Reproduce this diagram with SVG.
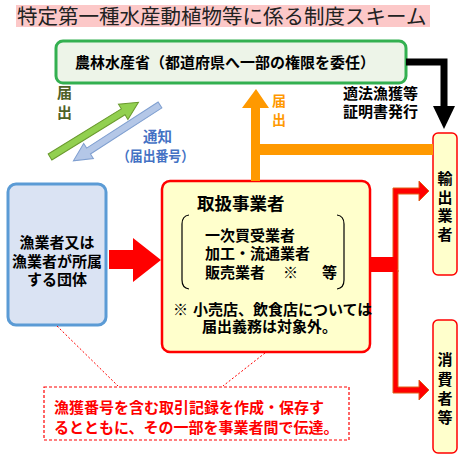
<svg xmlns="http://www.w3.org/2000/svg" width="465" height="462" viewBox="0 0 465 462">
<defs>
<style>
text{font-family:"Noto Sans CJK JP","Noto Sans CJK SC",sans-serif;font-weight:700;font-size:15px;fill:#000}
.title{font-weight:400;font-size:20.5px;fill:#222}
.red{fill:#ff0000}
.vt{text-anchor:middle}
.box-y{fill:#ffffcc;stroke:#ff0000}
</style>
</defs>
<rect width="465" height="462" fill="#fff"/>
<g id="title">
<rect x="16" y="5" width="414" height="22" fill="#fcc8c8"/>
<text class="title" x="17" y="23.5">特定第一種水産動植物等に係る制度スキーム</text>
</g>
<g id="maff">
<rect x="56" y="41" width="350" height="42" rx="7" fill="#edf4e8" stroke="#33b050" stroke-width="3"/>
<text x="75" y="67.5">農林水産省（都道府県へ一部の権限を委任）</text>
</g>
<g id="fisher">
<rect x="8" y="184" width="98" height="141" rx="8" fill="#dae3f3" stroke="#5b9bd5" stroke-width="3"/>
<text x="57" y="248" text-anchor="middle">漁業者又は</text>
<text x="57" y="266.5" text-anchor="middle">漁業者が所属</text>
<text x="57" y="284.5" text-anchor="middle">する団体</text>
</g>
<g id="handler">
<rect class="box-y" x="162" y="181" width="208" height="171" rx="8" stroke-width="2.5"/>
<text x="197" y="209.5" style="font-size:17.5px">取扱事業者</text>
<path d="M189,215 Q182,216 182,224 L182,280 Q182,288 189,289 M337,215 Q344,216 344,224 L344,280 Q344,288 337,289" fill="none" stroke="#000" stroke-width="1.2"/>
<text x="205" y="240.5">一次買受業者</text>
<text x="205" y="258.5">加工・流通業者</text>
<text x="205" y="277.5">販売業者</text>
<text x="283" y="277.5">※</text>
<text x="322" y="277.5">等</text>
<text x="173" y="314.5">※</text>
<text x="193" y="314.5">小売店、飲食店については</text>
<text x="202" y="331.5">届出義務は対象外。</text>
</g>
<g id="exporter">
<rect class="box-y" x="433" y="133" width="24" height="142" rx="5" stroke-width="1.5"/>
<text class="vt" x="445" y="183.5">輸</text>
<text class="vt" x="445" y="202.5">出</text>
<text class="vt" x="445" y="220.5">業</text>
<text class="vt" x="445" y="239.5">者</text>
</g>
<g id="consumer">
<rect class="box-y" x="433" y="320" width="24" height="133" rx="5" stroke-width="1.5"/>
<text class="vt" x="445" y="364.5">消</text>
<text class="vt" x="445" y="384.5">費</text>
<text class="vt" x="445" y="403.5">者</text>
<text class="vt" x="445" y="422.5">等</text>
</g>
<g id="note">
<rect x="44" y="387" width="305" height="53" fill="#fff" stroke="#ff0000" stroke-width="1.2" stroke-dasharray="3,2"/>
<text class="red" x="54" y="412.5">漁獲番号を含む取引記録を作成・保存す</text>
<text class="red" x="54" y="432.5">るとともに、その一部を事業者間で伝達。</text>
</g>
<g id="connectors">
<line x1="57" y1="326" x2="118" y2="386" stroke="#ff0000" stroke-width="1" stroke-dasharray="2,2"/>
<line x1="265" y1="353" x2="223" y2="386" stroke="#ff0000" stroke-width="1" stroke-dasharray="2,2"/>
<polygon points="0,-3.5 86,-3.5 86,-9 104,0 86,9 86,3.5 0,3.5" transform="translate(50,157) rotate(-31.7)" fill="#92d050" stroke="#6a9a2e" stroke-width="1"/>
<polygon points="0,-3.5 85,-3.5 85,-9 103,0 85,9 85,3.5 0,3.5" transform="translate(160,105) rotate(147.2)" fill="#b4c7e7" stroke="#7f9fd0" stroke-width="1"/>
<text x="57" y="98" style="fill:#4f6228">届</text>
<text x="57" y="118" style="fill:#4f6228">出</text>
<text x="143" y="142" style="fill:#4472c4;font-size:14.5px">通知</text>
<text x="117" y="161" style="fill:#4472c4;font-size:14px" textLength="77" lengthAdjust="spacingAndGlyphs">（届出番号）</text>
<polygon points="109,250 133,250 133,238 161,260 133,282 133,269 109,269" fill="#ff0000"/>
<path d="M251,181 L251,108 L242,108 L256,89 L269,108 L260,108 L260,144 L433,144 L433,155 L260,155 L260,181 Z" fill="#ff9900"/>
<text x="272" y="106" style="fill:#ff9900;font-size:14px">届</text>
<text x="272" y="125" style="fill:#ff9900;font-size:14px">出</text>
<polyline points="406,62 444,62 444,107" fill="none" stroke="#000" stroke-width="7"/>
<polygon points="433,106 455,106 444,129" fill="#000"/>
<text x="343" y="99">適法漁獲等</text>
<text x="343" y="117">証明書発行</text>
<path d="M393,272 L393,188 L419,188 L419,181 L429,191 L419,201 L419,194 L398,194 L398,272 Z" fill="#ff0000" stroke="#e0601a" stroke-width="1"/>
<path d="M393,270 L393,393 L419,393 L419,400 L429,390 L419,380 L419,387 L398,387 L398,270 Z" fill="#ff0000" stroke="#e0601a" stroke-width="1"/>
<rect x="370" y="257" width="27" height="15" fill="#ff0000"/>
</g>
</svg>
